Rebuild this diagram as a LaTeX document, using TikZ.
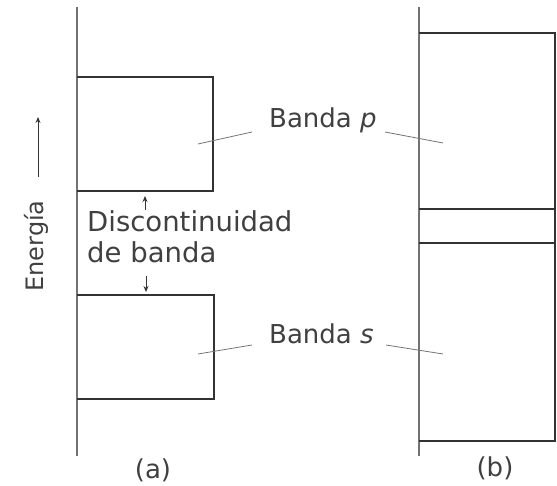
\documentclass[tikz,border=0pt]{standalone}
\usepackage{fontspec}
\setmainfont{DejaVu Sans}
\usetikzlibrary{arrows.meta}
\begin{document}
\begin{tikzpicture}[x=1pt,y=-1pt,
  band/.style={draw=black!80, line width=1.6pt},
  axis/.style={draw=black!55, line width=1.6pt},
  leader/.style={draw=black!55, line width=0.8pt},
  lbl/.style={font=\fontsize{26}{31}\selectfont, text=black!75, inner sep=0pt},
  tick/.style={draw=black!80, line width=0.9pt, -{Stealth[length=6pt,width=5pt]}}]
\useasboundingbox (0,0) rectangle (557,486);
% axes
\coordinate (a0) at (77,7); \coordinate (a1) at (77,456);
\coordinate (b0) at (419,7); \coordinate (b1) at (419,456);
\draw[axis] (a0) -- (a1);
\draw[axis] (b0) -- (b1);
% (a) bands
\draw[band] (77,77) -| (213,191) -- (77,191);
\draw[band] (77,295) -| (214,399) -- (77,399);
% (b) bands
\draw[band] (419,33) -| (555,441) -- (419,441);
\draw[band] (419,209) -- (555,209);
\draw[band] (419,243) -- (555,243);
% labels
\node[lbl, anchor=base west] (bp) at (269,128) {Banda \textit{p}};
\node[lbl, anchor=base west] (bs) at (269,344) {Banda \textit{s}};
\coordinate (pA) at (198,144); \coordinate (pB) at (443,143);
\coordinate (sA) at (198,354); \coordinate (sB) at (443,354);
\draw[leader] (pA) -- (252,132);
\draw[leader] (385,132) -- (pB);
\draw[leader] (sA) -- (252,345);
\draw[leader] (386,345) -- (sB);
\node[lbl, font=\fontsize{27.5}{31}\selectfont, anchor=base west] (disc1) at (87,232) {Discontinuidad};
\node[lbl, font=\fontsize{27.5}{31}\selectfont, anchor=base west] (disc2) at (87,263) {de banda};
\coordinate (t1) at (145,196); \coordinate (t2) at (146,292);
\draw[tick] (145,210) -- (t1);
\draw[tick] (146,276) -- (t2);
% energy
\node[lbl, font=\fontsize{24}{28}\selectfont, rotate=90] (en) at (36,246) {Energía};
\coordinate (e1) at (38,117);
\draw[tick] (38,177) -- (e1);
\node[lbl] (la) at (153,470) {(a)};
\node[lbl] (lb) at (495,468) {(b)};
\end{tikzpicture}
\end{document}
